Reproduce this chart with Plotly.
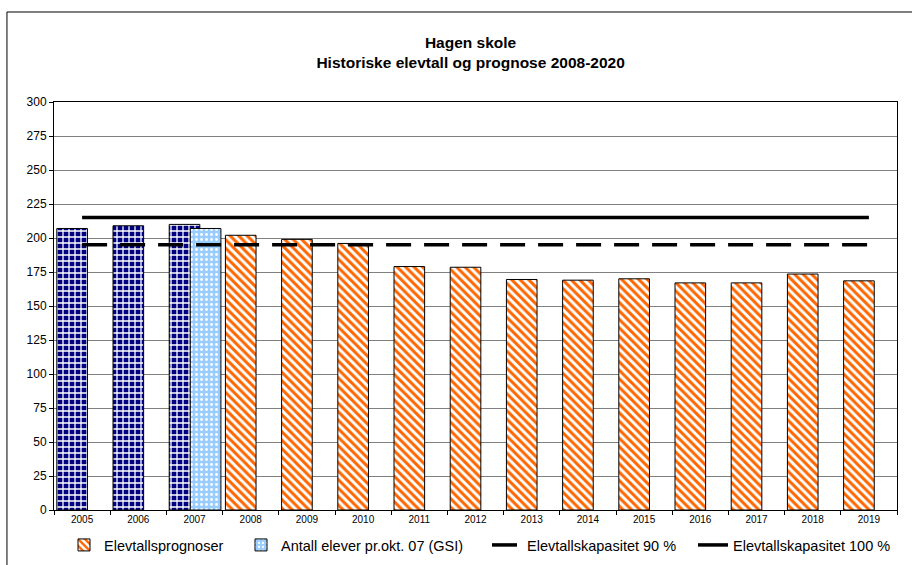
import plotly.graph_objects as go

years = ["2005", "2006", "2007", "2008", "2009", "2010", "2011", "2012",
         "2013", "2014", "2015", "2016", "2017", "2018", "2019"]
hist_years = ["2005", "2006", "2007"]
hist_values = [207, 209, 210]
prog_years = ["2008", "2009", "2010", "2011", "2012", "2013", "2014",
              "2015", "2016", "2017", "2018", "2019"]
prog_values = [202, 199, 196, 179, 178.5, 169.5, 169, 170, 167, 167, 173.5, 168.5]
gsi_years = ["2007"]
gsi_values = [207]
cap90 = [195, 195, 195, 195, 195, 195, 195, 195, 195, 195, 195, 195, 195, 195, 195]
cap100 = [215, 215, 215, 215, 215, 215, 215, 215, 215, 215, 215, 215, 215, 215, 215]
y_ticks = [0, 25, 50, 75, 100, 125, 150, 175, 200, 225, 250, 275, 300]

FONT = "Liberation Sans, Arial, sans-serif"
BAR_W = 0.545
OFF1 = -0.45
OFF2 = -0.075
W, H = 912, 565

fig = go.Figure()

fig.add_trace(go.Bar(
    x=prog_years, y=prog_values, name="Elevtallsprognoser", legend="legend",
    width=BAR_W, offset=OFF1,
    marker=dict(color="#FF6600", line=dict(color="#000000", width=1),
                pattern=dict(shape="\\", fgcolor="#FF6600", bgcolor="#FFFFFF",
                             size=6, solidity=0.5, fillmode="replace")),
))
fig.add_trace(go.Bar(
    x=hist_years, y=hist_values, name="Historisk", showlegend=False,
    width=BAR_W, offset=OFF1,
    marker=dict(color="#000080", line=dict(color="#000000", width=1),
                pattern=dict(shape="+", fgcolor="#FFFFFF", bgcolor="#000080",
                             size=6, solidity=0.38, fillmode="replace")),
))
fig.add_trace(go.Bar(
    x=gsi_years, y=gsi_values, name="Antall elever pr.okt. 07 (GSI)", legend="legend2",
    width=BAR_W, offset=OFF2,
    marker=dict(color="#99CCFF", line=dict(color="#000000", width=1),
                pattern=dict(shape=".", fgcolor="#FFFFFF", bgcolor="#99CCFF",
                             size=5, solidity=0.25, fillmode="replace")),
))
fig.add_trace(go.Scatter(
    x=years, y=cap90, name="Elevtallskapasitet 90 %", mode="lines", legend="legend3",
    line=dict(color="#000000", width=3.5, dash="25px,13px"),
))
fig.add_trace(go.Scatter(
    x=years, y=cap100, name="Elevtallskapasitet 100 %", mode="lines", legend="legend4",
    line=dict(color="#000000", width=3.5),
))


def leg(px):
    return dict(orientation="h", x=px / W, xanchor="left", xref="container",
                y=1 - 545 / H, yanchor="middle", yref="container",
                font=dict(size=14.5, family=FONT, color="#000000"),
                itemwidth=30, bgcolor="rgba(0,0,0,0)", borderwidth=0)


fig.update_layout(
    width=W, height=H,
    margin=dict(l=54, r=15, t=102, b=55, autoexpand=False),
    paper_bgcolor="#FFFFFF", plot_bgcolor="#FFFFFF",
    barmode="overlay",
    font=dict(family=FONT, color="#000000"),
    title=dict(text="<b>Hagen skole</b><br><b>Historiske elevtall og prognose 2008-2020</b>",
               x=0.516, xanchor="center", xref="container",
               y=0.9145, yanchor="middle", yref="container",
               font=dict(size=15.5, family=FONT, color="#000000")),
    showlegend=True,
    legend=leg(64),
    legend2=leg(241),
    legend3=leg(487),
    legend4=leg(693),
)

fig.update_xaxes(
    type="category", categoryorder="array", categoryarray=years, range=[-0.5, 14.5],
    tickson="boundaries", ticks="outside", ticklen=4, tickcolor="#000000",
    showline=True, linecolor="#000000", linewidth=1, mirror=True,
    showgrid=False, tickfont=dict(size=10, family=FONT, color="#000000"),
)
fig.update_yaxes(
    range=[0, 300], tickvals=y_ticks, ticks="outside", ticklen=4, tickcolor="#000000",
    showline=True, linecolor="#000000", linewidth=1, mirror=True,
    showgrid=True, gridcolor="#808080", gridwidth=1, zeroline=False,
    tickfont=dict(size=12, family=FONT, color="#000000"),
)

fig.add_shape(type="rect", xref="paper", yref="paper",
              x0=-0.0558, x1=1.03, y0=-0.16, y1=1.2206,
              line=dict(color="#000000", width=1), fillcolor="rgba(0,0,0,0)", layer="below")

fig.write_html("out.html", config={"displayModeBar": False},
               post_script="document.body.style.margin='0px';")
